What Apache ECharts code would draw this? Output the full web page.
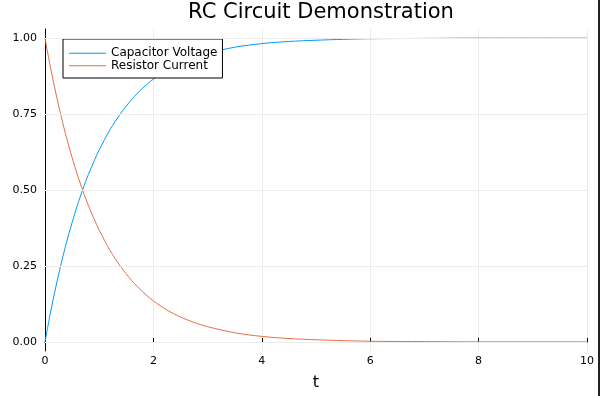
<!DOCTYPE html>
<html><head><meta charset="utf-8">
<script src="https://cdn.jsdelivr.net/npm/echarts@6/dist/echarts.min.js"></script>
<style>html,body{margin:0;padding:0;background:#fff}#c{width:600px;height:396px}</style>
</head><body><div id="c"></div>
<script>
const tValues = [0,0.1,0.2,0.3,0.4,0.5,0.6,0.7,0.8,0.9,1.0,1.2,1.4,1.6,1.8,2.0,2.25,2.5,2.75,3,3.5,4,4.5,5,5.5,6,7,8,9,10];
const capacitorVoltage = [0,0.095,0.181,0.259,0.330,0.393,0.451,0.503,0.551,0.593,0.632,0.699,0.753,0.798,0.835,0.865,0.895,0.918,0.936,0.950,0.970,0.982,0.989,0.993,0.996,0.998,0.999,1.0,1.0,1.0];
const resistorCurrent = [1,0.905,0.819,0.741,0.670,0.607,0.549,0.497,0.449,0.407,0.368,0.301,0.247,0.202,0.165,0.135,0.105,0.082,0.064,0.050,0.030,0.018,0.011,0.007,0.004,0.002,0.001,0.0,0.0,0.0];
const yTicks = [0,0.25,0.5,0.75,1.0];
const xTicks = [0,2,4,6,8,10];
const seriesNames = ['Capacitor Voltage','Resistor Current'];
const titleText = 'RC Circuit Demonstration';
const xLabel = 't';

const font = 'DejaVu Sans';
const chart = echarts.init(document.getElementById('c'), null, {renderer:'canvas'});
const pair = (xs, ys) => xs.map((x,i)=>[x, ys[i]]);
chart.setOption({
  animation:false,
  textStyle:{fontFamily:font},
  title:{text:titleText, left:316, top:-3, textAlign:'center',
    textStyle:{fontFamily:font, fontSize:21, fontWeight:'normal', color:'#000'}},
  grid:{left:45, right:13, top:29, bottom:43},
  legend:{
    data:seriesNames, orient:'vertical', left:63, top:39,
    backgroundColor:'#fff', borderColor:'#000', borderWidth:1, borderRadius:0,
    padding:[8,5,6,6], itemGap:0, itemWidth:37, itemHeight:1.2, icon:'rect',
    textStyle:{fontFamily:font, fontSize:12, lineHeight:12.5, color:'#000'}
  },
  xAxis:{type:'value', min:0, max:10, interval:2,
    name:xLabel, nameLocation:'middle', nameGap:24,
    nameTextStyle:{fontFamily:font, fontSize:16, color:'#000'},
    axisLine:{lineStyle:{color:'#000', width:1}},
    axisTick:{inside:true, length:4, lineStyle:{color:'#000'}},
    axisLabel:{color:'#000', fontSize:11, fontFamily:font, margin:5},
    splitLine:{show:true, lineStyle:{color:'#ececec', width:1}}
  },
  yAxis:{type:'value', min:-0.03, max:1.03,
    axisLine:{show:true, lineStyle:{color:'#000', width:1}},
    axisTick:{show:true, inside:true, length:4, lineStyle:{color:'#000'}, customValues:yTicks},
    axisLabel:{color:'#000', fontSize:11, fontFamily:font, margin:8, customValues:yTicks,
      formatter:v=>v.toFixed(2)},
    splitLine:{show:false}
  },
  graphic:[{type:'rect', shape:{x:598, y:0, width:2, height:396}, style:{fill:'#222'}, silent:true}],
  series:[
    {type:'line', name:'_grid', data:[], silent:true, z:0,
      markLine:{silent:true, symbol:'none', label:{show:false},
        lineStyle:{color:'#ececec', width:1, type:'solid'},
        data:yTicks.map(v=>({yAxis:v}))}},
    {type:'line', name:seriesNames[0], data:pair(tValues, capacitorVoltage), smooth:0.3,
      symbol:'none', lineStyle:{color:'#009AFA', width:1}, itemStyle:{color:'#009AFA'}, z:3},
    {type:'line', name:seriesNames[1], data:pair(tValues, resistorCurrent), smooth:0.3,
      symbol:'none', lineStyle:{color:'#E36F47', width:1}, itemStyle:{color:'#E36F47'}, z:3}
  ]
});
</script></body></html>
